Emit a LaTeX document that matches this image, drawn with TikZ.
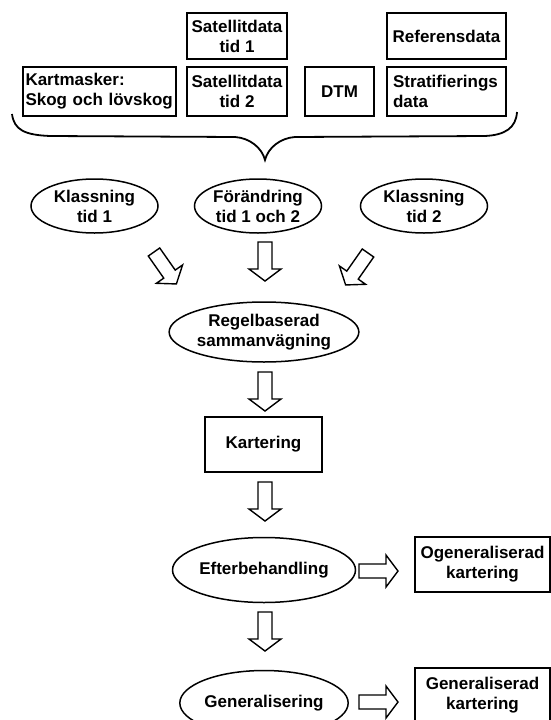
\documentclass[tikz,border=0pt]{standalone}
\usepackage{fontspec}
\setmainfont{Liberation Sans}
\usetikzlibrary{shapes.geometric}
\tikzset{
  fatarrow/.pic={
    \draw[line width=1.4pt,fill=white] (0,-7) -- (27,-7) -- (27,-16) -- (39,0) -- (27,16) -- (27,7) -- (0,7) -- cycle;
  }
}
\begin{document}
\begin{tikzpicture}[x=1pt,y=-1pt,
    every node/.style={font=\fontsize{17}{20}\selectfont\bfseries,inner sep=0pt},
    box/.style={draw,line width=1.5pt,align=center},
    oval/.style={draw,ellipse,line width=1.5pt,align=center,minimum width=127pt,minimum height=54pt},
    bigoval/.style={oval,minimum width=155pt,minimum height=63pt}]
  \clip (0,0) rectangle (551,720);
  % indata
  \node[box,minimum width=100pt,minimum height=46pt] (sat1) at (237,36) {Satellitdata\\tid 1};
  \node[box,minimum width=119pt,minimum height=46pt] (ref) at (446.5,36) {Referensdata};
  \node[box,align=left,text width=148pt,inner xsep=2.5pt,minimum height=49pt] (mask) at (99.5,91.5) {Kartmasker:\\Skog och lövskog};
  \node[box,minimum width=100pt,minimum height=49pt] (sat2) at (237,91.5) {Satellitdata\\tid 2};
  \node[box,minimum width=69pt,minimum height=49pt] (dtm) at (339.5,91.5) {DTM};
  \node[box,align=left,text width=107pt,inner xsep=6pt,minimum height=49pt] (strat) at (446.5,91.5) {Stratifierings\\data};
  % klammer
  \draw[line width=1.8pt] (12,114) .. controls (14,130) and (25,135) .. (50,136) -- (235,137)
    .. controls (250,138) and (262,148) .. (265,160)
    .. controls (268,148) and (280,138) .. (295,137) -- (485,136)
    .. controls (505,135) and (516,128) .. (517,112);
  % analyser
  \node[oval] (klass1) at (94.5,206) {Klassning\\tid 1};
  \node[oval] (change) at (258,206) {Förändring\\tid 1 och 2};
  \node[oval] (klass2) at (424,206) {Klassning\\tid 2};
  \node[bigoval,minimum height=60pt] (rule) at (264,332) {Regelbaserad\\sammanvägning};
  \node[box,minimum width=117pt,minimum height=55pt] (map) at (263.5,444.5) {Kartering};
  \node[bigoval,minimum height=65pt] (post) at (264,570) {Efterbehandling};
  \node[bigoval,minimum height=65pt] (gen) at (264,703) {Generalisering};
  \node[box,minimum width=135pt,minimum height=55pt] (ungen) at (482.5,564.5) {Ogeneraliserad\\kartering};
  \node[box,minimum width=135pt,minimum height=55pt] (genmap) at (482.5,695.5) {Generaliserad\\kartering};
  % pilar
  \pic[rotate=-55] at (154,252) {fatarrow};
  \pic[rotate=-90] at (265,242) {fatarrow};
  \pic[rotate=-125] at (368,253) {fatarrow};
  \pic[rotate=-90] at (265,372) {fatarrow};
  \pic[rotate=-90] at (265,482) {fatarrow};
  \pic[rotate=-90] at (265,612) {fatarrow};
  \pic at (359,571) {fatarrow};
  \pic at (359,702) {fatarrow};
\end{tikzpicture}
\end{document}
